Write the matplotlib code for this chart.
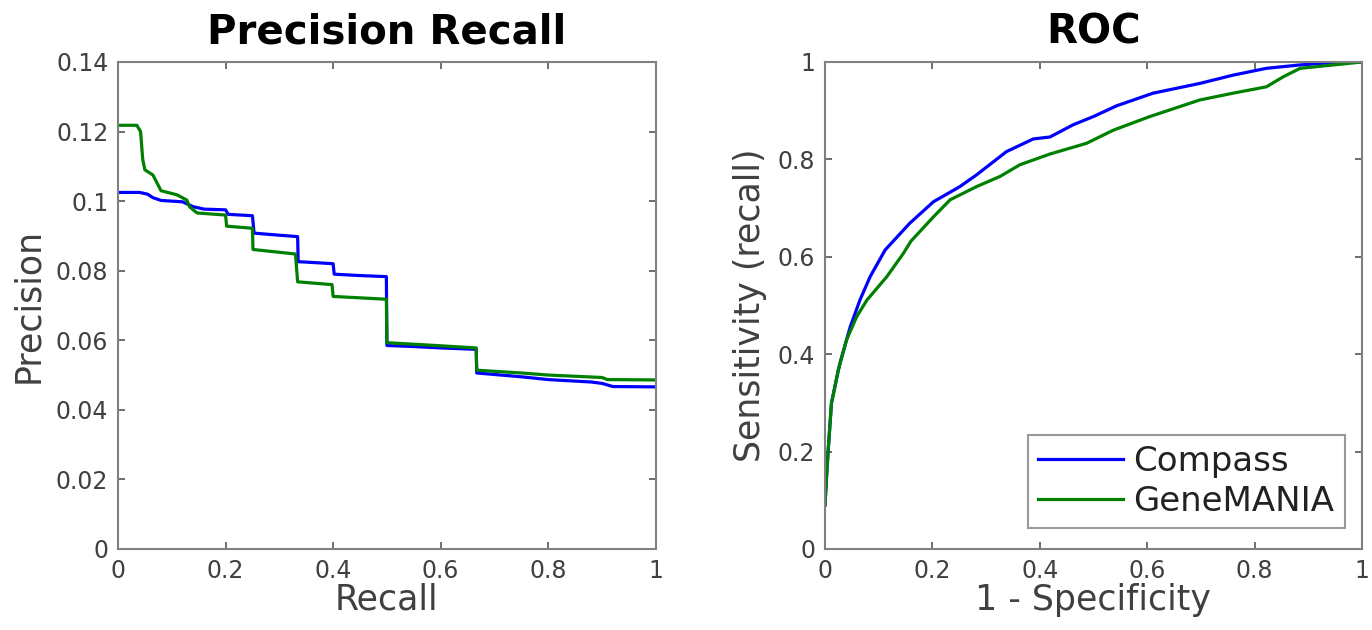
import matplotlib
matplotlib.use("Agg")
import matplotlib.pyplot as plt

# precision-recall curves (recall, precision)
pr_recall_compass = [0, 0.04, 0.055, 0.065, 0.08, 0.12, 0.14, 0.16, 0.2, 0.205, 0.25, 0.253, 0.30,
                     0.334, 0.335, 0.38, 0.40, 0.402, 0.45, 0.499, 0.50, 0.55, 0.60, 0.666, 0.667,
                     0.75, 0.80, 0.88, 0.90, 0.92, 1.0]
pr_prec_compass = [0.1025, 0.1025, 0.1020, 0.1010, 0.1002, 0.0998, 0.0984, 0.0977, 0.0975, 0.0962,
                   0.0958, 0.0908, 0.0902, 0.0898, 0.0826, 0.0822, 0.0820, 0.0790, 0.0786, 0.0783,
                   0.0585, 0.0582, 0.0578, 0.0574, 0.0506, 0.0495, 0.0487, 0.0480, 0.0476, 0.0467,
                   0.0466]

pr_recall_genemania = [0, 0.035, 0.042, 0.046, 0.05, 0.065, 0.075, 0.08, 0.11, 0.128, 0.133, 0.147,
                       0.20, 0.202, 0.25, 0.251, 0.33, 0.334, 0.398, 0.40, 0.499, 0.50, 0.58, 0.666,
                       0.667, 0.75, 0.80, 0.90, 0.91, 1.0]
pr_prec_genemania = [0.1218, 0.1218, 0.1200, 0.1120, 0.1090, 0.1075, 0.1045, 0.1030, 0.1018, 0.1003,
                     0.0984, 0.0966, 0.0960, 0.0928, 0.0922, 0.0861, 0.0848, 0.0768, 0.0760, 0.0726,
                     0.0718, 0.0593, 0.0586, 0.0578, 0.0514, 0.0506, 0.0500, 0.0493, 0.0487, 0.0486]

# ROC curves (1 - specificity, sensitivity)
roc_fpr_compass = [0, 0.003, 0.006, 0.012, 0.025, 0.028, 0.047, 0.065, 0.084, 0.112, 0.158, 0.202,
                   0.251, 0.282, 0.338, 0.388, 0.419, 0.462, 0.5, 0.543, 0.611, 0.698, 0.76, 0.822,
                   0.885, 0.947, 1.0]
roc_tpr_compass = [0.09, 0.15, 0.203, 0.299, 0.368, 0.382, 0.456, 0.511, 0.559, 0.614, 0.669, 0.713,
                   0.744, 0.768, 0.816, 0.842, 0.846, 0.871, 0.888, 0.910, 0.936, 0.956, 0.973, 0.987,
                   0.994, 0.999, 1.0]

roc_fpr_genemania = [0, 0.003, 0.006, 0.012, 0.025, 0.040, 0.059, 0.078, 0.115, 0.146, 0.16, 0.202,
                     0.233, 0.282, 0.326, 0.363, 0.419, 0.487, 0.537, 0.605, 0.698, 0.76, 0.822,
                     0.854, 0.885, 0.947, 1.0]
roc_tpr_genemania = [0.09, 0.15, 0.203, 0.299, 0.368, 0.429, 0.477, 0.511, 0.559, 0.607, 0.632, 0.682,
                     0.717, 0.744, 0.765, 0.789, 0.811, 0.833, 0.86, 0.888, 0.922, 0.936, 0.949,
                     0.97, 0.987, 0.994, 1.0]

series_names = ["Compass", "GeneMANIA"]
series_colors = ["#0000ff", "#008000"]

pr_yticks = [0, 0.02, 0.04, 0.06, 0.08, 0.1, 0.12, 0.14]
pr_yticklabels = ["0", "0.02", "0.04", "0.06", "0.08", "0.1", "0.12", "0.14"]
roc_yticks = [0, 0.2, 0.4, 0.6, 0.8, 1.0]
roc_yticklabels = ["0", "0.2", "0.4", "0.6", "0.8", "1"]
xticks = [0, 0.2, 0.4, 0.6, 0.8, 1.0]
xticklabels = ["0", "0.2", "0.4", "0.6", "0.8", "1"]

plt.rcParams['font.family'] = ['DejaVu Sans']
SPINE = "#808080"
TXT = "#404040"
LW = 2.3

fig = plt.figure(figsize=(13.72, 6.3), dpi=100)
ax1 = fig.add_axes([0.086, 0.1286, 0.392, 0.773])
ax2 = fig.add_axes([0.6013, 0.1286, 0.3914, 0.773])


def style_axes(ax, yticks, yticklabels):
    ax.set_xlim(0, 1)
    ax.set_xticks(xticks)
    ax.set_xticklabels(xticklabels)
    ax.set_yticks(yticks)
    ax.set_yticklabels(yticklabels)
    ax.set_ylim(yticks[0], yticks[-1])
    for s in ax.spines.values():
        s.set_color(SPINE)
        s.set_linewidth(1.5)
    ax.tick_params(direction="in", length=5, width=1.2, color="#555555",
                   top=True, right=True, labelsize=17, labelcolor=TXT, pad=7)


ax1.plot(pr_recall_compass, pr_prec_compass, color=series_colors[0], lw=LW, label=series_names[0])
ax1.plot(pr_recall_genemania, pr_prec_genemania, color=series_colors[1], lw=LW, label=series_names[1])
style_axes(ax1, pr_yticks, pr_yticklabels)
ax1.set_title("Precision Recall", fontsize=29, fontweight="bold", pad=13)
ax1.set_xlabel("Recall", fontsize=25, color=TXT, labelpad=0)
ax1.set_ylabel("Precision", fontsize=25, color=TXT, labelpad=8)

ax2.plot(roc_fpr_compass, roc_tpr_compass, color=series_colors[0], lw=LW, label=series_names[0])
ax2.plot(roc_fpr_genemania, roc_tpr_genemania, color=series_colors[1], lw=LW, label=series_names[1])
style_axes(ax2, roc_yticks, roc_yticklabels)
ax2.set_title("ROC", fontsize=29, fontweight="bold", pad=13)
ax2.set_xlabel("1 - Specificity", fontsize=25, color=TXT, labelpad=0)
ax2.set_ylabel("Sensitivity (recall)", fontsize=25, color=TXT, labelpad=8)

leg = ax2.legend(loc="lower right", bbox_to_anchor=(0.968, 0.043), borderaxespad=0,
                 fontsize=24.5, frameon=True, fancybox=False, handlelength=2.5,
                 handletextpad=0.3, borderpad=0.3, labelspacing=0.2)
leg.get_frame().set_edgecolor(SPINE)
leg.get_frame().set_linewidth(1.5)
for t in leg.get_texts():
    t.set_color("#222222")

fig.savefig("out.png", dpi=100, facecolor="white")
